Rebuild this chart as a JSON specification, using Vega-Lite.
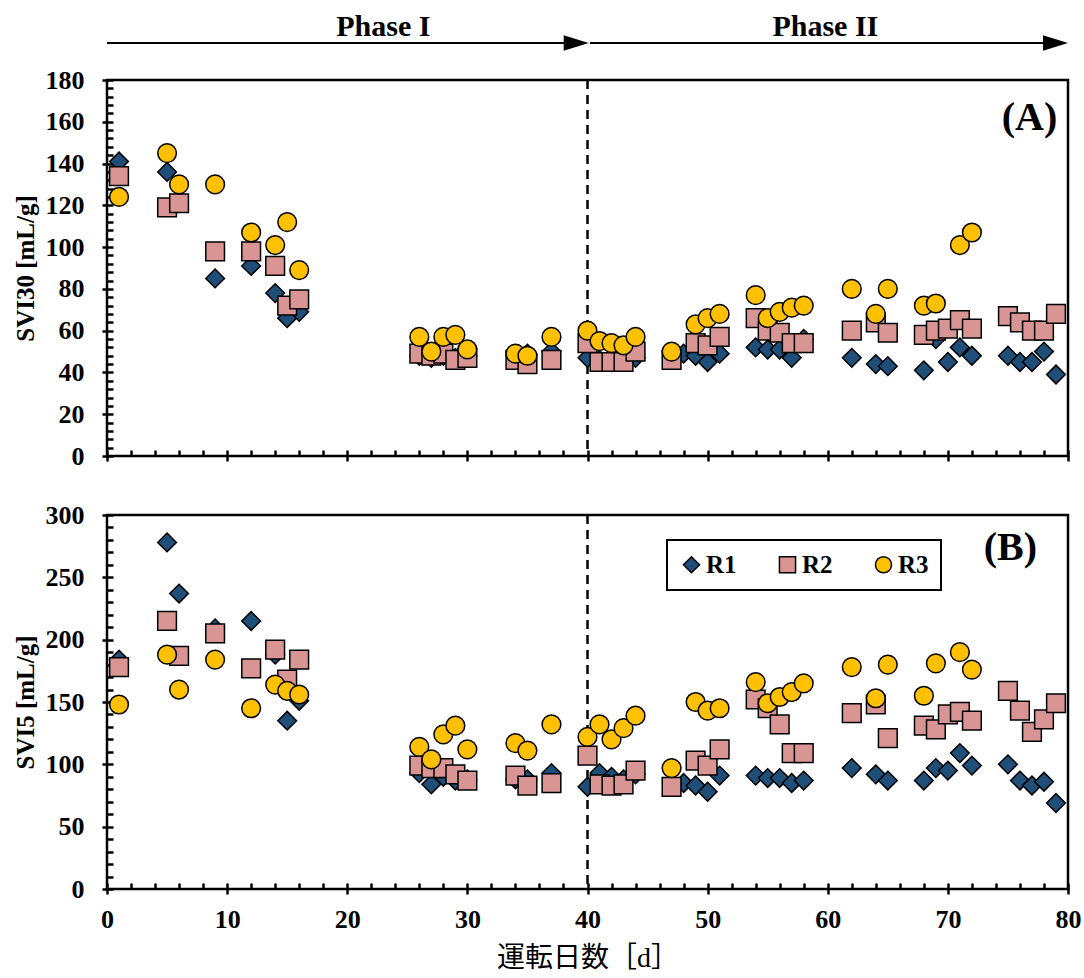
{
  "$schema": "https://vega.github.io/schema/vega-lite/v6.json",
  "background": "white",
  "padding": {"left": 11, "top": 10, "right": 10, "bottom": 5},
  "spacing": 29,
  "config": {
    "font": "Liberation Serif",
    "view": {"stroke": "black", "strokeWidth": 2.5},
    "axis": {
      "domain": false, "grid": false, "labelOverlap": false, "labelBound": false, "labelFlush": false,
      "labelFont": "Liberation Serif", "labelFontWeight": "bold", "labelFontSize": 26, "labelColor": "black",
      "tickColor": "black", "tickWidth": 2.5, "offset": -6,
      "titleFont": "Liberation Serif", "titleFontWeight": "bold", "titleFontSize": 25, "titleColor": "black"
    },
    "legend": {"strokeWidth": 2}
  },
  "datasets": {
    "svi30": [
      {"day":1,"series":"R1","v":141},{"day":5,"series":"R1","v":136},{"day":9,"series":"R1","v":85},{"day":12,"series":"R1","v":91},{"day":14,"series":"R1","v":78},{"day":15,"series":"R1","v":66},{"day":16,"series":"R1","v":69},
      {"day":26,"series":"R1","v":48},{"day":27,"series":"R1","v":47},{"day":28,"series":"R1","v":48},{"day":29,"series":"R1","v":47},{"day":30,"series":"R1","v":48},{"day":34,"series":"R1","v":48},{"day":35,"series":"R1","v":49},{"day":37,"series":"R1","v":50},
      {"day":40,"series":"R1","v":47},{"day":41,"series":"R1","v":46},{"day":42,"series":"R1","v":45},{"day":43,"series":"R1","v":46},{"day":44,"series":"R1","v":47},{"day":48,"series":"R1","v":49},{"day":49,"series":"R1","v":48},{"day":50,"series":"R1","v":45},{"day":51,"series":"R1","v":49},
      {"day":54,"series":"R1","v":52},{"day":55,"series":"R1","v":51},{"day":56,"series":"R1","v":51},{"day":57,"series":"R1","v":47},{"day":58,"series":"R1","v":56},{"day":62,"series":"R1","v":47},{"day":64,"series":"R1","v":44},{"day":65,"series":"R1","v":43},
      {"day":68,"series":"R1","v":41},{"day":69,"series":"R1","v":56},{"day":70,"series":"R1","v":45},{"day":71,"series":"R1","v":52},{"day":72,"series":"R1","v":48},{"day":75,"series":"R1","v":48},{"day":76,"series":"R1","v":45},{"day":77,"series":"R1","v":45},{"day":78,"series":"R1","v":50},{"day":79,"series":"R1","v":39},
      {"day":1,"series":"R2","v":134},{"day":5,"series":"R2","v":119},{"day":6,"series":"R2","v":121},{"day":9,"series":"R2","v":98},{"day":12,"series":"R2","v":98},{"day":14,"series":"R2","v":91},{"day":15,"series":"R2","v":72},{"day":16,"series":"R2","v":75},
      {"day":26,"series":"R2","v":49},{"day":27,"series":"R2","v":48},{"day":28,"series":"R2","v":49},{"day":29,"series":"R2","v":46},{"day":30,"series":"R2","v":47},{"day":34,"series":"R2","v":46},{"day":35,"series":"R2","v":44},{"day":37,"series":"R2","v":46},
      {"day":40,"series":"R2","v":54},{"day":41,"series":"R2","v":45},{"day":42,"series":"R2","v":45},{"day":43,"series":"R2","v":45},{"day":44,"series":"R2","v":50},{"day":47,"series":"R2","v":46},{"day":49,"series":"R2","v":54},{"day":50,"series":"R2","v":53},{"day":51,"series":"R2","v":57},
      {"day":54,"series":"R2","v":66},{"day":55,"series":"R2","v":60},{"day":56,"series":"R2","v":59},{"day":57,"series":"R2","v":54},{"day":58,"series":"R2","v":54},{"day":62,"series":"R2","v":60},{"day":64,"series":"R2","v":64},{"day":65,"series":"R2","v":59},
      {"day":68,"series":"R2","v":58},{"day":69,"series":"R2","v":60},{"day":70,"series":"R2","v":61},{"day":71,"series":"R2","v":65},{"day":72,"series":"R2","v":61},{"day":75,"series":"R2","v":67},{"day":76,"series":"R2","v":64},{"day":77,"series":"R2","v":60},{"day":78,"series":"R2","v":60},{"day":79,"series":"R2","v":68},
      {"day":1,"series":"R3","v":124},{"day":5,"series":"R3","v":145},{"day":6,"series":"R3","v":130},{"day":9,"series":"R3","v":130},{"day":12,"series":"R3","v":107},{"day":14,"series":"R3","v":101},{"day":15,"series":"R3","v":112},{"day":16,"series":"R3","v":89},
      {"day":26,"series":"R3","v":57},{"day":27,"series":"R3","v":50},{"day":28,"series":"R3","v":57},{"day":29,"series":"R3","v":58},{"day":30,"series":"R3","v":51},{"day":34,"series":"R3","v":49},{"day":35,"series":"R3","v":48},{"day":37,"series":"R3","v":57},
      {"day":40,"series":"R3","v":60},{"day":41,"series":"R3","v":55},{"day":42,"series":"R3","v":54},{"day":43,"series":"R3","v":53},{"day":44,"series":"R3","v":57},{"day":47,"series":"R3","v":50},{"day":49,"series":"R3","v":63},{"day":50,"series":"R3","v":66},{"day":51,"series":"R3","v":68},
      {"day":54,"series":"R3","v":77},{"day":55,"series":"R3","v":66},{"day":56,"series":"R3","v":69},{"day":57,"series":"R3","v":71},{"day":58,"series":"R3","v":72},{"day":62,"series":"R3","v":80},{"day":64,"series":"R3","v":68},{"day":65,"series":"R3","v":80},
      {"day":68,"series":"R3","v":72},{"day":69,"series":"R3","v":73},{"day":71,"series":"R3","v":101},{"day":72,"series":"R3","v":107}
    ],
    "svi5": [
      {"day":1,"series":"R1","v":184},{"day":5,"series":"R1","v":278},{"day":6,"series":"R1","v":237},{"day":9,"series":"R1","v":209},{"day":12,"series":"R1","v":215},{"day":14,"series":"R1","v":188},{"day":15,"series":"R1","v":135},{"day":16,"series":"R1","v":151},
      {"day":26,"series":"R1","v":93},{"day":27,"series":"R1","v":84},{"day":28,"series":"R1","v":90},{"day":29,"series":"R1","v":87},{"day":30,"series":"R1","v":88},{"day":34,"series":"R1","v":88},{"day":35,"series":"R1","v":88},{"day":37,"series":"R1","v":93},
      {"day":40,"series":"R1","v":82},{"day":41,"series":"R1","v":93},{"day":42,"series":"R1","v":90},{"day":43,"series":"R1","v":88},{"day":44,"series":"R1","v":92},{"day":48,"series":"R1","v":85},{"day":49,"series":"R1","v":83},{"day":50,"series":"R1","v":78},{"day":51,"series":"R1","v":91},
      {"day":54,"series":"R1","v":91},{"day":55,"series":"R1","v":89},{"day":56,"series":"R1","v":89},{"day":57,"series":"R1","v":85},{"day":58,"series":"R1","v":87},{"day":62,"series":"R1","v":97},{"day":64,"series":"R1","v":92},{"day":65,"series":"R1","v":87},
      {"day":68,"series":"R1","v":87},{"day":69,"series":"R1","v":97},{"day":70,"series":"R1","v":95},{"day":71,"series":"R1","v":109},{"day":72,"series":"R1","v":99},{"day":75,"series":"R1","v":100},{"day":76,"series":"R1","v":87},{"day":77,"series":"R1","v":83},{"day":78,"series":"R1","v":86},{"day":79,"series":"R1","v":69},
      {"day":1,"series":"R2","v":178},{"day":5,"series":"R2","v":215},{"day":6,"series":"R2","v":187},{"day":9,"series":"R2","v":205},{"day":12,"series":"R2","v":177},{"day":14,"series":"R2","v":192},{"day":15,"series":"R2","v":168},{"day":16,"series":"R2","v":184},
      {"day":26,"series":"R2","v":99},{"day":27,"series":"R2","v":97},{"day":28,"series":"R2","v":97},{"day":29,"series":"R2","v":92},{"day":30,"series":"R2","v":87},{"day":34,"series":"R2","v":91},{"day":35,"series":"R2","v":83},{"day":37,"series":"R2","v":85},
      {"day":40,"series":"R2","v":107},{"day":41,"series":"R2","v":84},{"day":42,"series":"R2","v":83},{"day":43,"series":"R2","v":84},{"day":44,"series":"R2","v":95},{"day":47,"series":"R2","v":82},{"day":49,"series":"R2","v":103},{"day":50,"series":"R2","v":99},{"day":51,"series":"R2","v":112},
      {"day":54,"series":"R2","v":152},{"day":55,"series":"R2","v":145},{"day":56,"series":"R2","v":132},{"day":57,"series":"R2","v":109},{"day":58,"series":"R2","v":109},{"day":62,"series":"R2","v":141},{"day":64,"series":"R2","v":148},{"day":65,"series":"R2","v":121},
      {"day":68,"series":"R2","v":131},{"day":69,"series":"R2","v":128},{"day":70,"series":"R2","v":140},{"day":71,"series":"R2","v":142},{"day":72,"series":"R2","v":135},{"day":75,"series":"R2","v":159},{"day":76,"series":"R2","v":143},{"day":77,"series":"R2","v":126},{"day":78,"series":"R2","v":136},{"day":79,"series":"R2","v":149},
      {"day":1,"series":"R3","v":148},{"day":5,"series":"R3","v":188},{"day":6,"series":"R3","v":160},{"day":9,"series":"R3","v":184},{"day":12,"series":"R3","v":145},{"day":14,"series":"R3","v":164},{"day":15,"series":"R3","v":159},{"day":16,"series":"R3","v":156},
      {"day":26,"series":"R3","v":114},{"day":27,"series":"R3","v":104},{"day":28,"series":"R3","v":124},{"day":29,"series":"R3","v":131},{"day":30,"series":"R3","v":112},{"day":34,"series":"R3","v":117},{"day":35,"series":"R3","v":111},{"day":37,"series":"R3","v":132},
      {"day":40,"series":"R3","v":122},{"day":41,"series":"R3","v":132},{"day":42,"series":"R3","v":120},{"day":43,"series":"R3","v":129},{"day":44,"series":"R3","v":139},{"day":47,"series":"R3","v":97},{"day":49,"series":"R3","v":150},{"day":50,"series":"R3","v":143},{"day":51,"series":"R3","v":145},
      {"day":54,"series":"R3","v":166},{"day":55,"series":"R3","v":149},{"day":56,"series":"R3","v":154},{"day":57,"series":"R3","v":158},{"day":58,"series":"R3","v":165},{"day":62,"series":"R3","v":178},{"day":64,"series":"R3","v":153},{"day":65,"series":"R3","v":180},
      {"day":68,"series":"R3","v":155},{"day":69,"series":"R3","v":181},{"day":71,"series":"R3","v":190},{"day":72,"series":"R3","v":176}
    ]
  },
  "vconcat": [
    {
      "width": 961, "height": 376,
      "resolve": {"axis": {"x": "independent", "y": "independent"}},
      "layer": [
        {
          "data": {"values": [{}]},
          "mark": {"type": "rule", "strokeDash": [9, 6], "strokeWidth": 2.5, "color": "black"},
          "encoding": {"x": {"datum": 40, "type": "quantitative", "scale": {"domain": [0, 80], "nice": false, "zero": false},
            "axis": {"orient": "bottom", "title": null, "labels": false, "tickSize": 6,
              "values": [2,4,6,8,12,14,16,18,22,24,26,28,32,34,36,38,42,44,46,48,52,54,56,58,62,64,66,68,72,74,76,78]}}}
        },
        {
          "data": {"name": "svi30"},
          "mark": {"type": "point", "filled": true, "opacity": 1, "size": 350, "stroke": "black", "strokeWidth": 1.5},
          "encoding": {
            "x": {"field": "day", "type": "quantitative",
              "scale": {"domain": [0, 80], "nice": false, "zero": false},
              "axis": {"orient": "bottom", "title": null, "labels": false, "tickSize": 11,
                "values": [0,10,20,30,40,50,60,70,80]}},
            "y": {"field": "v", "type": "quantitative",
              "scale": {"domain": [0, 180], "nice": false},
              "axis": {"orient": "left", "title": "SVI30 [mL/g]", "titlePadding": 7, "labelPadding": 18, "tickSize": 11,
                "values": [0,20,40,60,80,100,120,140,160,180]}},
            "color": {"field": "series", "type": "nominal",
              "scale": {"domain": ["R1", "R2", "R3"], "range": ["#1F4E79", "#D99594", "#FFC000"]}, "legend": null},
            "shape": {"field": "series", "type": "nominal",
              "scale": {"domain": ["R1", "R2", "R3"], "range": ["diamond", "square", "circle"]}, "legend": null}
          }
        },
        {
          "data": {"values": [{}]},
          "mark": {"type": "text", "font": "Liberation Serif", "fontWeight": "bold", "fontSize": 40, "color": "black", "align": "center", "baseline": "middle"},
          "encoding": {"x": {"datum": 76.8, "axis": null},
            "y": {"datum": 162, "axis": {"orient": "left", "title": null, "labels": false, "tickSize": 6,
              "values": [4,8,12,16,24,28,32,36,44,48,52,56,64,68,72,76,84,88,92,96,104,108,112,116,124,128,132,136,144,148,152,156,164,168,172,176]}},
            "text": {"value": "(A)"}}
        },
        {
          "data": {"values": [{}]},
          "mark": {"type": "rule", "strokeWidth": 2, "color": "black"},
          "encoding": {"x": {"datum": 0, "axis": null}, "x2": {"datum": 39}, "y": {"datum": 197.7, "axis": null}}
        },
        {
          "data": {"values": [{}]},
          "mark": {"type": "rule", "strokeWidth": 2, "color": "black"},
          "encoding": {"x": {"datum": 40.2, "axis": null}, "x2": {"datum": 79}, "y": {"datum": 197.7, "axis": null}}
        },
        {
          "data": {"values": [{}]},
          "mark": {"type": "point", "filled": true, "color": "black", "opacity": 1, "size": 625, "shape": "M-2,-0.62L0,0L-2,0.62Z"},
          "encoding": {"x": {"datum": 40.1, "axis": null}, "y": {"datum": 197.7, "axis": null}}
        },
        {
          "data": {"values": [{}]},
          "mark": {"type": "point", "filled": true, "color": "black", "opacity": 1, "size": 625, "shape": "M-2,-0.62L0,0L-2,0.62Z"},
          "encoding": {"x": {"datum": 80, "axis": null}, "y": {"datum": 197.7, "axis": null}}
        },
        {
          "data": {"values": [{}]},
          "mark": {"type": "text", "font": "Liberation Serif", "fontWeight": "bold", "fontSize": 30, "color": "black", "align": "center", "baseline": "middle"},
          "encoding": {"x": {"datum": 23, "axis": null}, "y": {"datum": 205.4, "axis": null}, "text": {"value": "Phase I"}}
        },
        {
          "data": {"values": [{}]},
          "mark": {"type": "text", "font": "Liberation Serif", "fontWeight": "bold", "fontSize": 30, "color": "black", "align": "center", "baseline": "middle"},
          "encoding": {"x": {"datum": 59.8, "axis": null}, "y": {"datum": 205.4, "axis": null}, "text": {"value": "Phase II"}}
        }
      ]
    },
    {
      "width": 961, "height": 374,
      "resolve": {"axis": {"x": "independent", "y": "independent"}},
      "layer": [
        {
          "data": {"values": [{}]},
          "mark": {"type": "rule", "strokeDash": [9, 6], "strokeWidth": 2.5, "color": "black"},
          "encoding": {"x": {"datum": 40, "type": "quantitative", "scale": {"domain": [0, 80], "nice": false, "zero": false},
            "axis": {"orient": "bottom", "title": null, "labels": false, "tickSize": 6,
              "values": [2,4,6,8,12,14,16,18,22,24,26,28,32,34,36,38,42,44,46,48,52,54,56,58,62,64,66,68,72,74,76,78]}}}
        },
        {
          "data": {"name": "svi5"},
          "mark": {"type": "point", "filled": true, "opacity": 1, "size": 350, "stroke": "black", "strokeWidth": 1.5},
          "encoding": {
            "x": {"field": "day", "type": "quantitative",
              "scale": {"domain": [0, 80], "nice": false, "zero": false},
              "axis": {"orient": "bottom", "title": "運転日数［d］", "titleFont": "Liberation Serif, Noto Sans CJK JP", "titleFontWeight": "normal", "titleFontSize": 28, "titlePadding": 12, "labelPadding": 12, "tickSize": 11,
                "values": [0,10,20,30,40,50,60,70,80]}},
            "y": {"field": "v", "type": "quantitative",
              "scale": {"domain": [0, 300], "nice": false},
              "axis": {"orient": "left", "title": "SVI5 [mL/g]", "titlePadding": 7, "labelPadding": 18, "tickSize": 11,
                "values": [0,50,100,150,200,250,300]}},
            "color": {"field": "series", "type": "nominal",
              "scale": {"domain": ["R1", "R2", "R3"], "range": ["#1F4E79", "#D99594", "#FFC000"]},
              "legend": {"orient": "none", "legendX": 560, "legendY": 25, "direction": "horizontal", "title": null,
                "strokeColor": "black", "fillColor": "white", "padding": 12,
                "labelFont": "Liberation Serif", "labelFontWeight": "bold", "labelFontSize": 25, "labelColor": "black", "labelOffset": 2,
                "symbolSize": 260, "symbolStrokeColor": "black", "symbolStrokeWidth": 1.5, "columnPadding": 38}},
            "shape": {"field": "series", "type": "nominal",
              "scale": {"domain": ["R1", "R2", "R3"], "range": ["diamond", "square", "circle"]},
              "legend": {"orient": "none", "legendX": 560, "legendY": 25, "direction": "horizontal", "title": null,
                "strokeColor": "black", "fillColor": "white", "padding": 12,
                "labelFont": "Liberation Serif", "labelFontWeight": "bold", "labelFontSize": 25, "labelColor": "black", "labelOffset": 2,
                "symbolSize": 260, "symbolStrokeColor": "black", "symbolStrokeWidth": 1.5, "columnPadding": 38}}
          }
        },
        {
          "data": {"values": [{}]},
          "mark": {"type": "text", "font": "Liberation Serif", "fontWeight": "bold", "fontSize": 40, "color": "black", "align": "center", "baseline": "middle"},
          "encoding": {"x": {"datum": 75.2, "axis": null},
            "y": {"datum": 273.5, "axis": {"orient": "left", "title": null, "labels": false, "tickSize": 6,
              "values": [10,20,30,40,60,70,80,90,110,120,130,140,160,170,180,190,210,220,230,240,260,270,280,290]}},
            "text": {"value": "(B)"}}
        }
      ]
    }
  ],
  "resolve": {"scale": {"color": "independent", "shape": "independent"}}
}
